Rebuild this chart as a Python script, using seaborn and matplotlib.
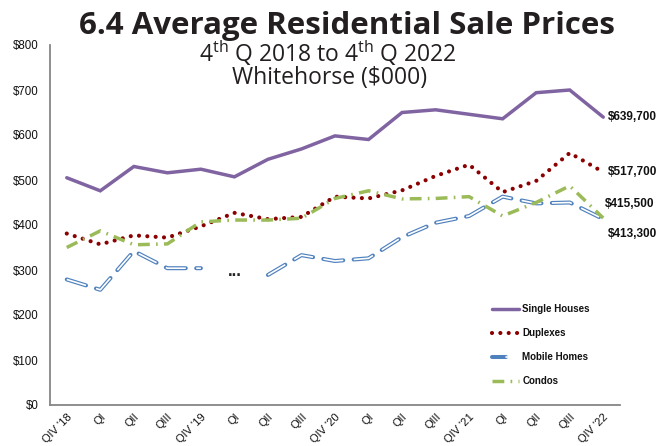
import numpy as np
import pandas as pd
import matplotlib
matplotlib.use("Agg")
import matplotlib.pyplot as plt
import seaborn as sns
from matplotlib.lines import Line2D
from matplotlib.legend_handler import HandlerTuple

# ---------------- data ----------------
quarters = ["QIV '18", "QI", "QII", "QIII", "QIV '19", "QI", "QII", "QIII",
            "QIV '20", "QI", "QII", "QIII", "QIV '21", "QI", "QII", "QIII", "QIV '22"]
single_houses = [505, 476, 530, 516, 524, 507, 546, 569, 598, 590, 650, 656, 646, 636, 694, 700, 639.7]
duplexes = [381, 357, 377, 372, 397, 427, 413, 418, 463, 459, 477, 509, 534, 473, 498, 560, 517.7]
mobile_homes = [279, 256, 342, 304, 304, np.nan, 289, 333, 320, 326, 373, 405, 420, 463, 448, 450, 413.3]
condos = [350, 387, 356, 358, 407, 411, 411, 415, 459, 476, 458, 459, 463, 420, 450, 487, 415.5]
series_names = ["Single Houses", "Duplexes", "Mobile Homes", "Condos"]
end_labels = ["$639,700", "$517,700", "$415,500", "$413,300"]
y_ticks = [0, 100, 200, 300, 400, 500, 600, 700, 800]
missing_note = "..."
missing_note_value = 296

# ---------------- style ----------------
sns.set_theme(style="white")
plt.rcParams["font.family"] = ["Liberation Sans", "DejaVu Sans"]
plt.rcParams["lines.scale_dashes"] = False
plt.rcParams["mathtext.fontset"] = "custom"
plt.rcParams["mathtext.rm"] = "Open Sans:medium"
plt.rcParams["mathtext.it"] = "Open Sans:medium"

C_PURPLE = "#8064A2"
C_RED = "#8B0000"
C_BLUE = "#4F81BD"
C_GREEN = "#9BBB59"

pos = np.arange(len(quarters))
df = pd.DataFrame({"pos": pos, "Single Houses": single_houses, "Duplexes": duplexes,
                   "Mobile Homes": mobile_homes, "Condos": condos})

fig = plt.figure(figsize=(6.6, 4.46), dpi=100)
W, H = 660, 446
ax = fig.add_axes([50 / W, (H - 405) / H, 570 / W, 360 / H])

# Single houses - solid purple
sns.lineplot(data=df, x="pos", y="Single Houses", ax=ax, color=C_PURPLE, lw=2.5,
             solid_joinstyle="miter")

# Duplexes - round dots
sns.lineplot(data=df, x="pos", y="Duplexes", ax=ax, color=C_RED, lw=3.0,
             linestyle=(0, (0.01, 6.0)), dash_capstyle="round")

# Mobile homes - outlined long dashes, with a gap where data is missing
mh = df[["pos", "Mobile Homes"]].copy()
mh["seg"] = mh["Mobile Homes"].isna().cumsum()
mh = mh.dropna()
for _, seg in mh.groupby("seg"):
    sns.lineplot(data=seg, x="pos", y="Mobile Homes", ax=ax, color=C_BLUE, lw=2.9,
                 linestyle=(0, (14.5, 7.5)), dash_capstyle="round")
    sns.lineplot(data=seg, x="pos", y="Mobile Homes", ax=ax, color="white", lw=1.2,
                 linestyle=(0, (14.5, 7.5)), dash_capstyle="butt")

# Condos - dash dot
sns.lineplot(data=df, x="pos", y="Condos", ax=ax, color=C_GREEN, lw=2.5,
             linestyle=(0, (8.5, 4.5, 1.2, 4.5)), dash_capstyle="butt")

# missing-data note
ax.text(5, missing_note_value, missing_note, ha="center", va="center",
        fontsize=12, fontweight="bold", color="#222222")

# end labels
finals = [single_houses[-1], duplexes[-1], condos[-1], mobile_homes[-1]]
offsets = [(3.5, 0), (3.5, 0), (1.5, 10), (3.5, -10.5)]
for val, lab, off in zip(finals, end_labels, offsets):
    ax.annotate(lab, xy=(pos[-1], val), xytext=off, textcoords="offset points",
                ha="left", va="center", fontsize=8.5, fontweight="bold", color="#111111")

# axes
ax.set_xlim(-0.5, len(quarters) - 0.5)
ax.set_ylim(0, 800)
ax.set_yticks(y_ticks)
ax.set_yticklabels([f"${v}" for v in y_ticks])
ax.set_xticks(pos)
ax.set_xticklabels(quarters, rotation=45, ha="right", rotation_mode="anchor")
ax.tick_params(axis="both", length=0, labelsize=8.3, colors="#111111")
ax.tick_params(axis="x", labelsize=8.0, pad=5)
ax.tick_params(axis="y", pad=8)
ax.set_xlabel("")
ax.set_ylabel("")
for s in ["top", "right"]:
    ax.spines[s].set_visible(False)
for s in ["left", "bottom"]:
    ax.spines[s].set_color("#868686")
    ax.spines[s].set_linewidth(1.3)
ax.grid(False)

# legend
h_sh = Line2D([], [], color=C_PURPLE, lw=2.5)
h_dp = Line2D([], [], color=C_RED, lw=3.0, linestyle=(0, (0.01, 6.0)), dash_capstyle="round")
h_mh = (Line2D([], [], color=C_BLUE, lw=2.9, solid_capstyle="round"),
        Line2D([], [], color="white", lw=1.2))
h_cd = Line2D([], [], color=C_GREEN, lw=2.5, linestyle=(0, (8.5, 4.5, 1.2, 4.5)))
leg = ax.legend([h_sh, h_dp, h_mh, h_cd], series_names,
                handler_map={tuple: HandlerTuple(ndivide=None, pad=0)},
                loc="upper left", bbox_to_anchor=(492 / W, (H - 304) / H),
                bbox_transform=fig.transFigure, frameon=False, borderpad=0,
                borderaxespad=0, handlelength=2.8, handletextpad=0.3,
                labelspacing=1.45, prop={"size": 7, "weight": "bold"})
for t in leg.get_texts():
    t.set_color("#111111")

# titles
fig.text(347 / W, (H - 34) / H, "6.4 Average Residential Sale Prices", ha="center",
         va="baseline", fontsize=22.5, fontweight="bold", family="Open Sans", color="#231F20")
fig.text(328 / W, (H - 62) / H, r"4$^{\mathrm{th}}$ Q 2018 to 4$^{\mathrm{th}}$ Q 2022",
         ha="center", va="baseline", fontsize=16.5, family="Open Sans", fontweight="medium",
         color="#231F20")
fig.text(330 / W, (H - 84) / H, "Whitehorse ($000)", ha="center", va="baseline",
         fontsize=16.5, family="Open Sans", fontweight="medium", color="#231F20")

fig.savefig("out.png", dpi=100)
